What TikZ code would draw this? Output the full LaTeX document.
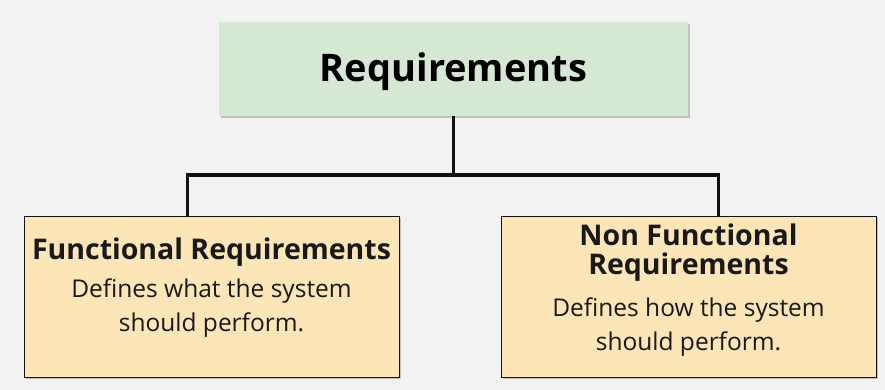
\documentclass[tikz,border=0pt]{standalone}
\usepackage{fontspec}
\setmainfont{Open Sans}
\usetikzlibrary{shadows,calc}
\definecolor{pagebg}{HTML}{F2F2F2}
\definecolor{rootfill}{HTML}{D5E8D4}
\definecolor{leaffill}{HTML}{FCE5B6}
\definecolor{edge}{HTML}{111111}
\tikzset{
  boxshadow/.style={drop shadow={shadow xshift=1.5pt,shadow yshift=-2.5pt,opacity=0.35,fill=black!60}},
  rootbox/.style={fill=rootfill,draw=none,boxshadow,minimum width=469pt,minimum height=94pt,inner sep=0pt},
  leafbox/.style={fill=leaffill,draw=edge,line width=0.9pt,boxshadow,minimum width=375pt,minimum height=161pt,inner sep=0pt},
  roottext/.style={font=\bfseries\fontsize{38}{44}\selectfont,text=black},
  leaftitle/.style={font=\bfseries\fontsize{28.5}{29}\selectfont,align=center,text=black!90},
  leafbody/.style={font=\fontsize{24.5}{34}\selectfont,align=center,text=black!90},
  link/.style={draw=edge,line width=3.5pt}
}
\begin{document}
\begin{tikzpicture}[x=1pt,y=1pt]
  \fill[pagebg] (0,0) rectangle (885,390);
  \useasboundingbox (0,0) rectangle (885,390);

  % boxes
  \node[rootbox] (root) at (453.5,321) {};
  \node[leafbox] (fr) at (211.5,93.5) {};
  \node[leafbox] (nfr) at (688.5,93.5) {};

  % connectors
  \coordinate (busl) at (187.5,215);
  \coordinate (busr) at (718.5,215);
  \draw[link] (root.south) -- (root.south |- busl);
  \draw[link,line cap=rect] (fr.north -| busl) -- (busl) -- (busr) -- (nfr.north -| busr);

  % labels
  \node[roottext] (roott) at (453.5,318) {Requirements};
  \node[leaftitle] (frt) at (211.5,138) {Functional Requirements};
  \node[leafbody] (frb) at (211.5,82) {Defines what the system\\should perform.};
  \node[leaftitle] (nfrt) at (688.5,137) {Non Functional\\Requirements};
  \node[leafbody] (nfrb) at (688.5,63) {Defines how the system\\should perform.};
\end{tikzpicture}
\end{document}
